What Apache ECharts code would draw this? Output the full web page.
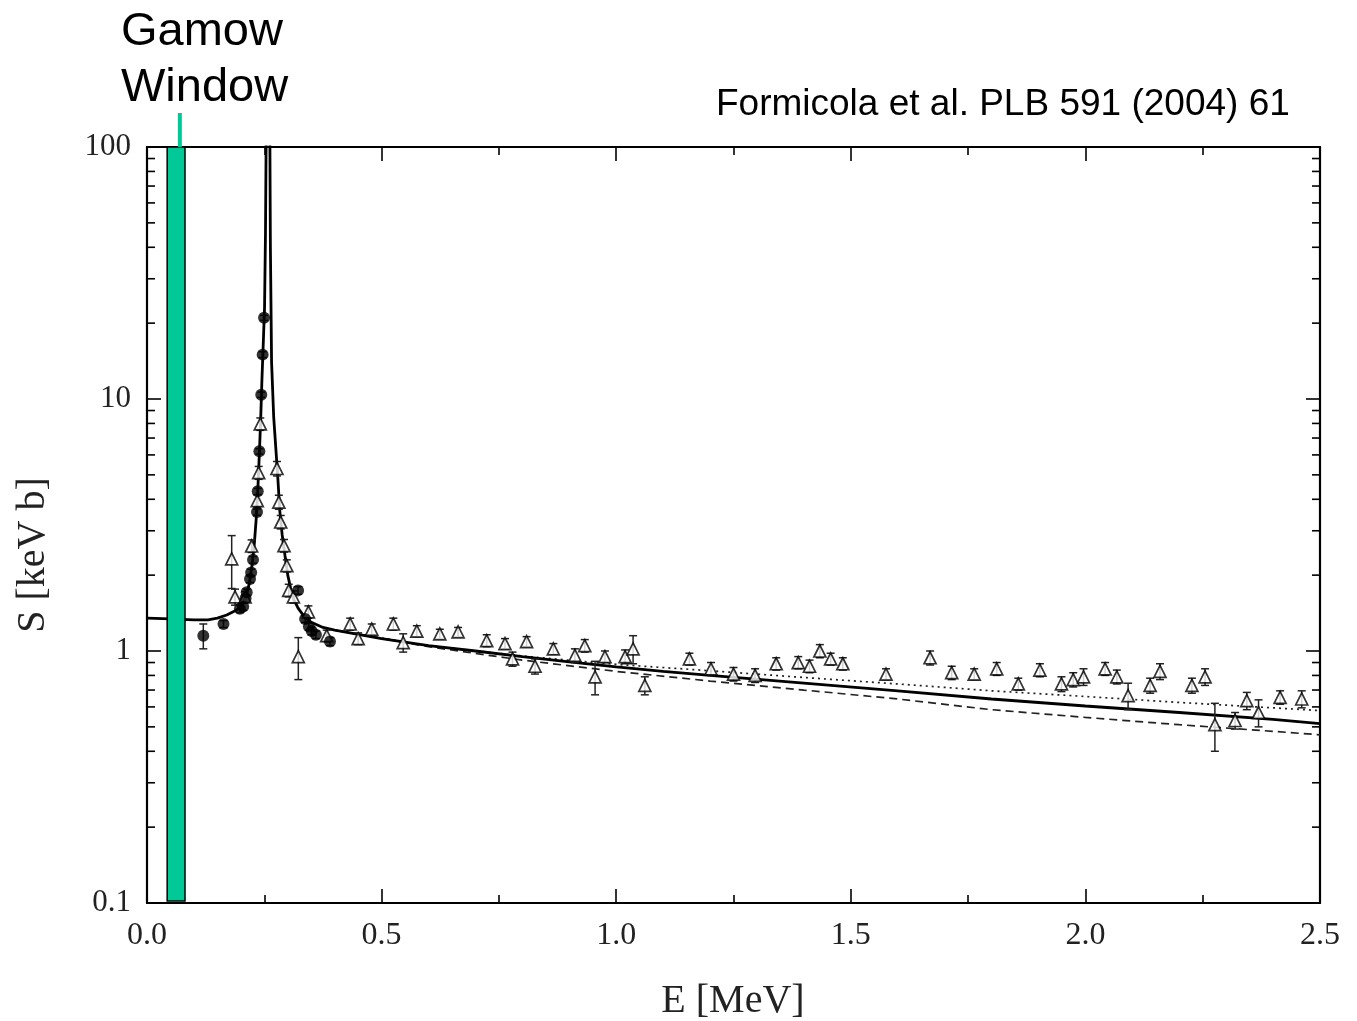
<!DOCTYPE html>
<html>
<head>
<meta charset="utf-8">
<script src="https://cdn.jsdelivr.net/npm/echarts@6/dist/echarts.min.js"></script>
<style>
html,body{margin:0;padding:0;background:#fff;}
#chart{width:1357px;height:1021px;}
</style>
</head>
<body>
<div id="chart"></div>
<script>
// ---- Data (E in MeV, S in keV b) ----
const xTickLabels = ['0.0','0.5','1.0','1.5','2.0','2.5'];
const yTickLabels = ['0.1','1','10','100'];
const yMinorTicks = [0.2,0.3,0.4,0.5,0.6,0.7,0.8,0.9,2,3,4,5,6,7,8,9,20,30,40,50,60,70,80,90];

// Gamow window range (MeV)
const gamowRange = [0.043, 0.081];
const gamowMarkerE = 0.07;

// Solid fit curve
const solidE = [0,0.05,0.1,0.13,0.15,0.17,0.19,0.2,0.21,0.218,0.224,0.229,0.233,0.236,0.239,0.242,0.245,0.248,0.2505,0.2525,0.2545,0.258,0.2615,0.263,0.2655,0.27,0.275,0.279,0.283,0.288,0.294,0.3,0.306,0.313,0.322,0.335,0.35,0.375,0.4,0.5,0.6,0.7,0.8,0.9,1.0,1.1,1.2,1.4,1.6,1.8,2.0,2.2,2.4,2.5];
const solidS = [1.35,1.34,1.33,1.33,1.35,1.39,1.45,1.5,1.62,1.85,2.2,2.7,3.4,4.3,5.8,8,12,17,23,45,150,1500,150,40,14,8.5,6.2,4.8,3.6,2.9,2.4,2.0,1.78,1.6,1.48,1.37,1.3,1.24,1.21,1.12,1.05,1.0,0.95,0.905,0.865,0.83,0.80,0.745,0.695,0.645,0.605,0.57,0.535,0.515];

// Dotted fit curve
const dottedE = [0.4,0.6,0.8,1.0,1.2,1.4,1.6,1.8,2.0,2.2,2.4,2.5];
const dottedS = [1.21,1.05,0.955,0.885,0.835,0.785,0.74,0.695,0.66,0.625,0.595,0.58];

// Dashed fit curve
const dashedE = [0.4,0.6,0.8,1.0,1.2,1.4,1.6,1.8,2.0,2.2,2.4,2.5];
const dashedS = [1.21,1.04,0.92,0.83,0.76,0.70,0.645,0.585,0.545,0.51,0.48,0.465];

// Open triangles (data set 1)
const triE = [0.1805,0.1876,0.209,0.223,0.235,0.238,0.2415,0.277,0.281,0.285,0.292,0.298,0.302,0.312,0.3225,0.344,0.383,0.433,0.45,0.479,0.525,0.546,0.575,0.624,0.663,0.724,0.763,0.779,0.809,0.827,0.866,0.912,0.933,0.955,0.976,1.019,1.036,1.061,1.156,1.202,1.25,1.296,1.341,1.388,1.412,1.434,1.457,1.483,1.575,1.669,1.715,1.763,1.811,1.857,1.903,1.949,1.974,1.996,2.042,2.067,2.091,2.138,2.159,2.227,2.255,2.276,2.319,2.344,2.369,2.415,2.461];
const triS = [2.32,1.64,1.64,2.61,3.95,5.1,7.96,5.3,3.9,3.25,2.62,2.18,1.74,1.64,0.95,1.43,1.15,1.28,1.12,1.22,1.28,1.08,1.2,1.17,1.19,1.10,1.07,0.93,1.09,0.87,1.02,0.96,1.05,0.79,0.95,0.95,1.02,0.73,0.93,0.85,0.81,0.80,0.89,0.90,0.87,1.0,0.93,0.89,0.81,0.94,0.82,0.81,0.85,0.74,0.84,0.74,0.77,0.79,0.85,0.79,0.665,0.73,0.83,0.73,0.79,0.51,0.53,0.635,0.57,0.655,0.645];
const triErr = [0.55,0.12,0.08,0.15,0.22,0.3,0.45,0.35,0.25,0.2,0.15,0.12,0.1,0.09,0.18,0.08,0.06,0.07,0.06,0.06,0.07,0.09,0.06,0.05,0.05,0.06,0.05,0.06,0.05,0.06,0.05,0.06,0.06,0.12,0.05,0.06,0.13,0.06,0.05,0.05,0.05,0.05,0.05,0.05,0.05,0.06,0.05,0.05,0.04,0.06,0.05,0.04,0.05,0.04,0.05,0.05,0.05,0.06,0.05,0.05,0.08,0.05,0.06,0.05,0.06,0.11,0.04,0.05,0.07,0.04,0.05];

// Filled circles (data set 2)
const cirE = [0.12,0.163,0.198,0.205,0.21,0.2125,0.2195,0.222,0.226,0.2345,0.236,0.2395,0.2435,0.2465,0.2495,0.322,0.337,0.345,0.351,0.36,0.39];
const cirS = [1.15,1.28,1.47,1.5,1.62,1.71,1.93,2.05,2.3,3.56,4.3,6.2,10.4,15,21,1.74,1.34,1.25,1.2,1.16,1.09];
const cirErr = [0.13,0.04,0.05,0.05,0.05,0.05,0.06,0.06,0.07,0.1,0.12,0.15,0.25,0.4,0.5,0.06,0.04,0.04,0.04,0.04,0.04];

// ---- Build series data ----
const zip = (a,b) => a.map((v,i)=>[v,b[i]]);
const errData = (E,S,D) => E.map((e,i)=>[e, S[i]-D[i], S[i]+D[i]]);

const FONT_SERIF = '"Liberation Serif","DejaVu Serif",serif';
const FONT_SANS = '"Liberation Sans",Arial,sans-serif';

function errRender(params, api){
  const x = api.value(0), lo = api.value(1), hi = api.value(2);
  const a = api.coord([x, hi]), b = api.coord([x, lo]);
  const w = 4;
  const st = {stroke:'#222', lineWidth:1.5};
  return {type:'group', children:[
    {type:'line', shape:{x1:a[0],y1:a[1],x2:b[0],y2:b[1]}, style:st},
    {type:'line', shape:{x1:a[0]-w,y1:a[1],x2:a[0]+w,y2:a[1]}, style:st},
    {type:'line', shape:{x1:b[0]-w,y1:b[1],x2:b[0]+w,y2:b[1]}, style:st}
  ]};
}

function minorTickRender(params, api){
  const v = api.value(0);
  const l = api.coord([0, v]);
  const r = api.coord([2.5, v]);
  const len = 8;
  const st = {stroke:'#000', lineWidth:1.6};
  return {type:'group', children:[
    {type:'line', shape:{x1:l[0],y1:l[1],x2:l[0]+len,y2:l[1]}, style:st},
    {type:'line', shape:{x1:r[0]-len,y1:r[1],x2:r[0],y2:r[1]}, style:st}
  ]};
}

function gamowRender(params, api){
  const lo = api.value(0), hi = api.value(1), m = api.value(2);
  const p1 = api.coord([lo, 100]);
  const p2 = api.coord([hi, 0.1]);
  const pm = api.coord([m, 100]);
  return {type:'group', children:[
    {type:'rect', shape:{x:p1[0], y:p1[1], width:p2[0]-p1[0], height:p2[1]-p1[1]-2},
      style:{fill:'#00c896', stroke:'#000', lineWidth:1.5}},
    {type:'line', shape:{x1:pm[0], y1:p1[1]-34, x2:pm[0], y2:p1[1]},
      style:{stroke:'#00c896', lineWidth:4}}
  ]};
}

const axisCommonX = {
  type:'value', min:0, max:2.5, interval:0.5,
  axisLine:{show:true, onZero:false, lineStyle:{color:'#000', width:2.2}},
  axisTick:{show:true, inside:true, length:14, lineStyle:{color:'#000', width:1.6}},
  minorTick:{show:true, splitNumber:2, length:8, lineStyle:{color:'#000', width:1.6}},
  splitLine:{show:false}, minorSplitLine:{show:false}
};
const axisCommonY = {
  type:'log', logBase:10, min:0.1, max:100,
  axisLine:{show:true, onZero:false, lineStyle:{color:'#000', width:2.2}},
  axisTick:{show:true, inside:true, length:14, lineStyle:{color:'#000', width:1.6}},
  splitLine:{show:false}
};

const chart = echarts.init(document.getElementById('chart'), null, {renderer:'canvas'});
chart.setOption({
  backgroundColor:'#fff',
  animation:false,
  grid:{left:147, right:37, top:147, bottom:118, containLabel:false},
  xAxis:[
    Object.assign({}, axisCommonX, {position:'bottom',
      axisLabel:{show:true, margin:17, fontFamily:FONT_SERIF, fontSize:32, color:'#222',
        formatter:(v)=>{const i=Math.round(v/0.5); return xTickLabels[i] !== undefined ? xTickLabels[i] : '';}}}),
    Object.assign({}, axisCommonX, {position:'top', axisLabel:{show:false}})
  ],
  yAxis:[
    Object.assign({}, axisCommonY, {position:'left',
      axisLabel:{show:true, margin:16, fontFamily:FONT_SERIF, fontSize:31, color:'#222',
        formatter:(v)=>{const i=Math.round(Math.log10(v))+1; return yTickLabels[i] !== undefined ? yTickLabels[i] : '';}}}),
    Object.assign({}, axisCommonY, {position:'right', axisLabel:{show:false}})
  ],
  series:[
    {type:'custom', name:'minorY', renderItem:minorTickRender, data:yMinorTicks.map(v=>[v]),
      encode:{y:0}, silent:true, z:3},
    {type:'line', name:'dashed', data:zip(dashedE,dashedS), showSymbol:false, symbol:'none',
      lineStyle:{color:'#222', width:1.7, type:[8,5]}, z:2, clip:true},
    {type:'line', name:'dotted', data:zip(dottedE,dottedS), showSymbol:false, symbol:'none',
      lineStyle:{color:'#222', width:1.7, type:[2,4]}, z:2, clip:true},
    {type:'line', name:'fit', data:zip(solidE,solidS), showSymbol:false, symbol:'none',
      lineStyle:{color:'#000', width:2.8}, z:3, clip:true},
    {type:'custom', name:'triErr', renderItem:errRender, data:errData(triE,triS,triErr),
      encode:{x:0, y:[1,2]}, z:4, silent:true},
    {type:'custom', name:'cirErr', renderItem:errRender, data:errData(cirE,cirS,cirErr),
      encode:{x:0, y:[1,2]}, z:4, silent:true},
    {type:'scatter', name:'triangles', data:zip(triE,triS), symbol:'triangle', symbolSize:[12,12],
      itemStyle:{color:'#fff', borderColor:'#000', borderWidth:1.7}, z:5},
    {type:'scatter', name:'circles', data:zip(cirE,cirS), symbol:'circle', symbolSize:12,
      itemStyle:{color:'#000'}, z:6},
    {type:'custom', name:'gamow', renderItem:gamowRender,
      data:[[gamowRange[0], gamowRange[1], gamowMarkerE]], encode:{x:[0,1]}, z:8, silent:true, clip:false}
  ],
  graphic:[
    {type:'text', left:121, top:9, style:{text:'Gamow', font:'47px '+FONT_SANS, fill:'#000'}},
    {type:'text', left:121, top:65, style:{text:'Window', font:'47px '+FONT_SANS, fill:'#000'}},
    {type:'text', left:716, top:86, style:{text:'Formicola et al. PLB 591 (2004) 61', font:'37px '+FONT_SANS, fill:'#000'}},
    {type:'text', x:733, y:1001, style:{text:'E [MeV]', font:'40px '+FONT_SERIF, fill:'#222', align:'center', verticalAlign:'middle'}},
    {type:'text', x:33, y:555, rotation:Math.PI/2, style:{text:'S [keV b]', font:'40px '+FONT_SERIF, fill:'#222', align:'center', verticalAlign:'middle'}}
  ]
});
</script>
</body>
</html>
